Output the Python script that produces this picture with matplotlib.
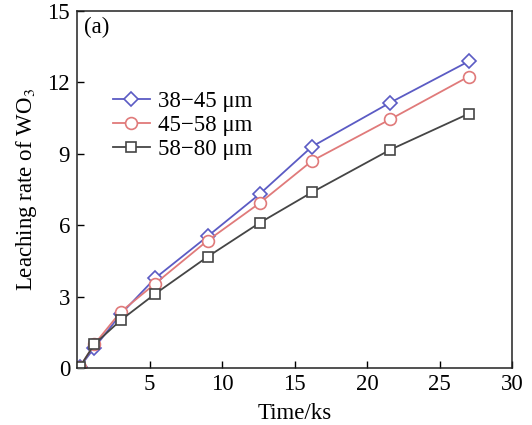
import matplotlib.pyplot as plt

# Datos (tiempo en ks, tasa de lixiviación)
tiempo = [0.2, 1.2, 3.0, 5.4, 9.0, 12.6, 16.2, 21.6, 27.0]
serie_38_45 = [0.05, 0.85, 2.25, 3.78, 5.53, 7.31, 9.3, 11.15, 12.88]
serie_45_58 = [0.05, 1.0, 2.35, 3.55, 5.35, 6.93, 8.7, 10.45, 12.24]
serie_58_80 = [0.05, 1.0, 2.0, 3.12, 4.67, 6.1, 7.38, 9.17, 10.68]
etiquetas = ["38\u221245 \u03bcm", "45\u221258 \u03bcm", "58\u221280 \u03bcm"]

plt.rcParams["font.family"] = ["Liberation Serif", "DejaVu Serif"]
plt.rcParams["mathtext.fontset"] = "stix"

fig = plt.figure(figsize=(5.32, 4.25), dpi=100)
ax = fig.add_axes([77 / 532, 1 - 368 / 425, 435 / 532, 357 / 425])

estilos = [
    (serie_38_45, "#5b5bc4", "D", 7.5),
    (serie_45_58, "#e07a7a", "o", 8.5),
    (serie_58_80, "#454545", "s", 7.5),
]
for (valores, color, marcador, tam), etiqueta in zip(estilos, etiquetas):
    ax.plot(tiempo, valores, color=color, lw=1.3, marker=marcador, ms=tam,
            mfc="white", mec=color, mew=1.2, label=etiqueta)

ax.set_xlim(0, 30)
ax.set_ylim(0, 15)
ax.set_xticks([0, 5, 10, 15, 20, 25, 30])
ax.set_yticks([0, 3, 6, 9, 12, 15])
ax.set_xticklabels(["", "5", "10", "15", "20", "25", "30"])
ax.tick_params(direction="in", length=5, width=1, labelsize=16.5,
               top=False, right=False)
ax.tick_params(axis="y", pad=5)
ax.tick_params(axis="x", pad=4)
for s in ax.spines.values():
    s.set_linewidth(1.1)
    s.set_color("#222222")

ax.set_xlabel("Time/ks", fontsize=16.5, labelpad=6)
ax.set_ylabel("Leaching rate of WO$_3$", fontsize=16.5, labelpad=6)
ax.text(0.45, 14.3, "(a)", fontsize=16.5, va="center")

ax.legend(loc="upper left", bbox_to_anchor=(0.083, 0.775), frameon=False,
          fontsize=16.5, handlelength=1.6, handletextpad=0.35,
          labelspacing=0.12, borderpad=0, borderaxespad=0)

fig.savefig("out.png", dpi=100)
